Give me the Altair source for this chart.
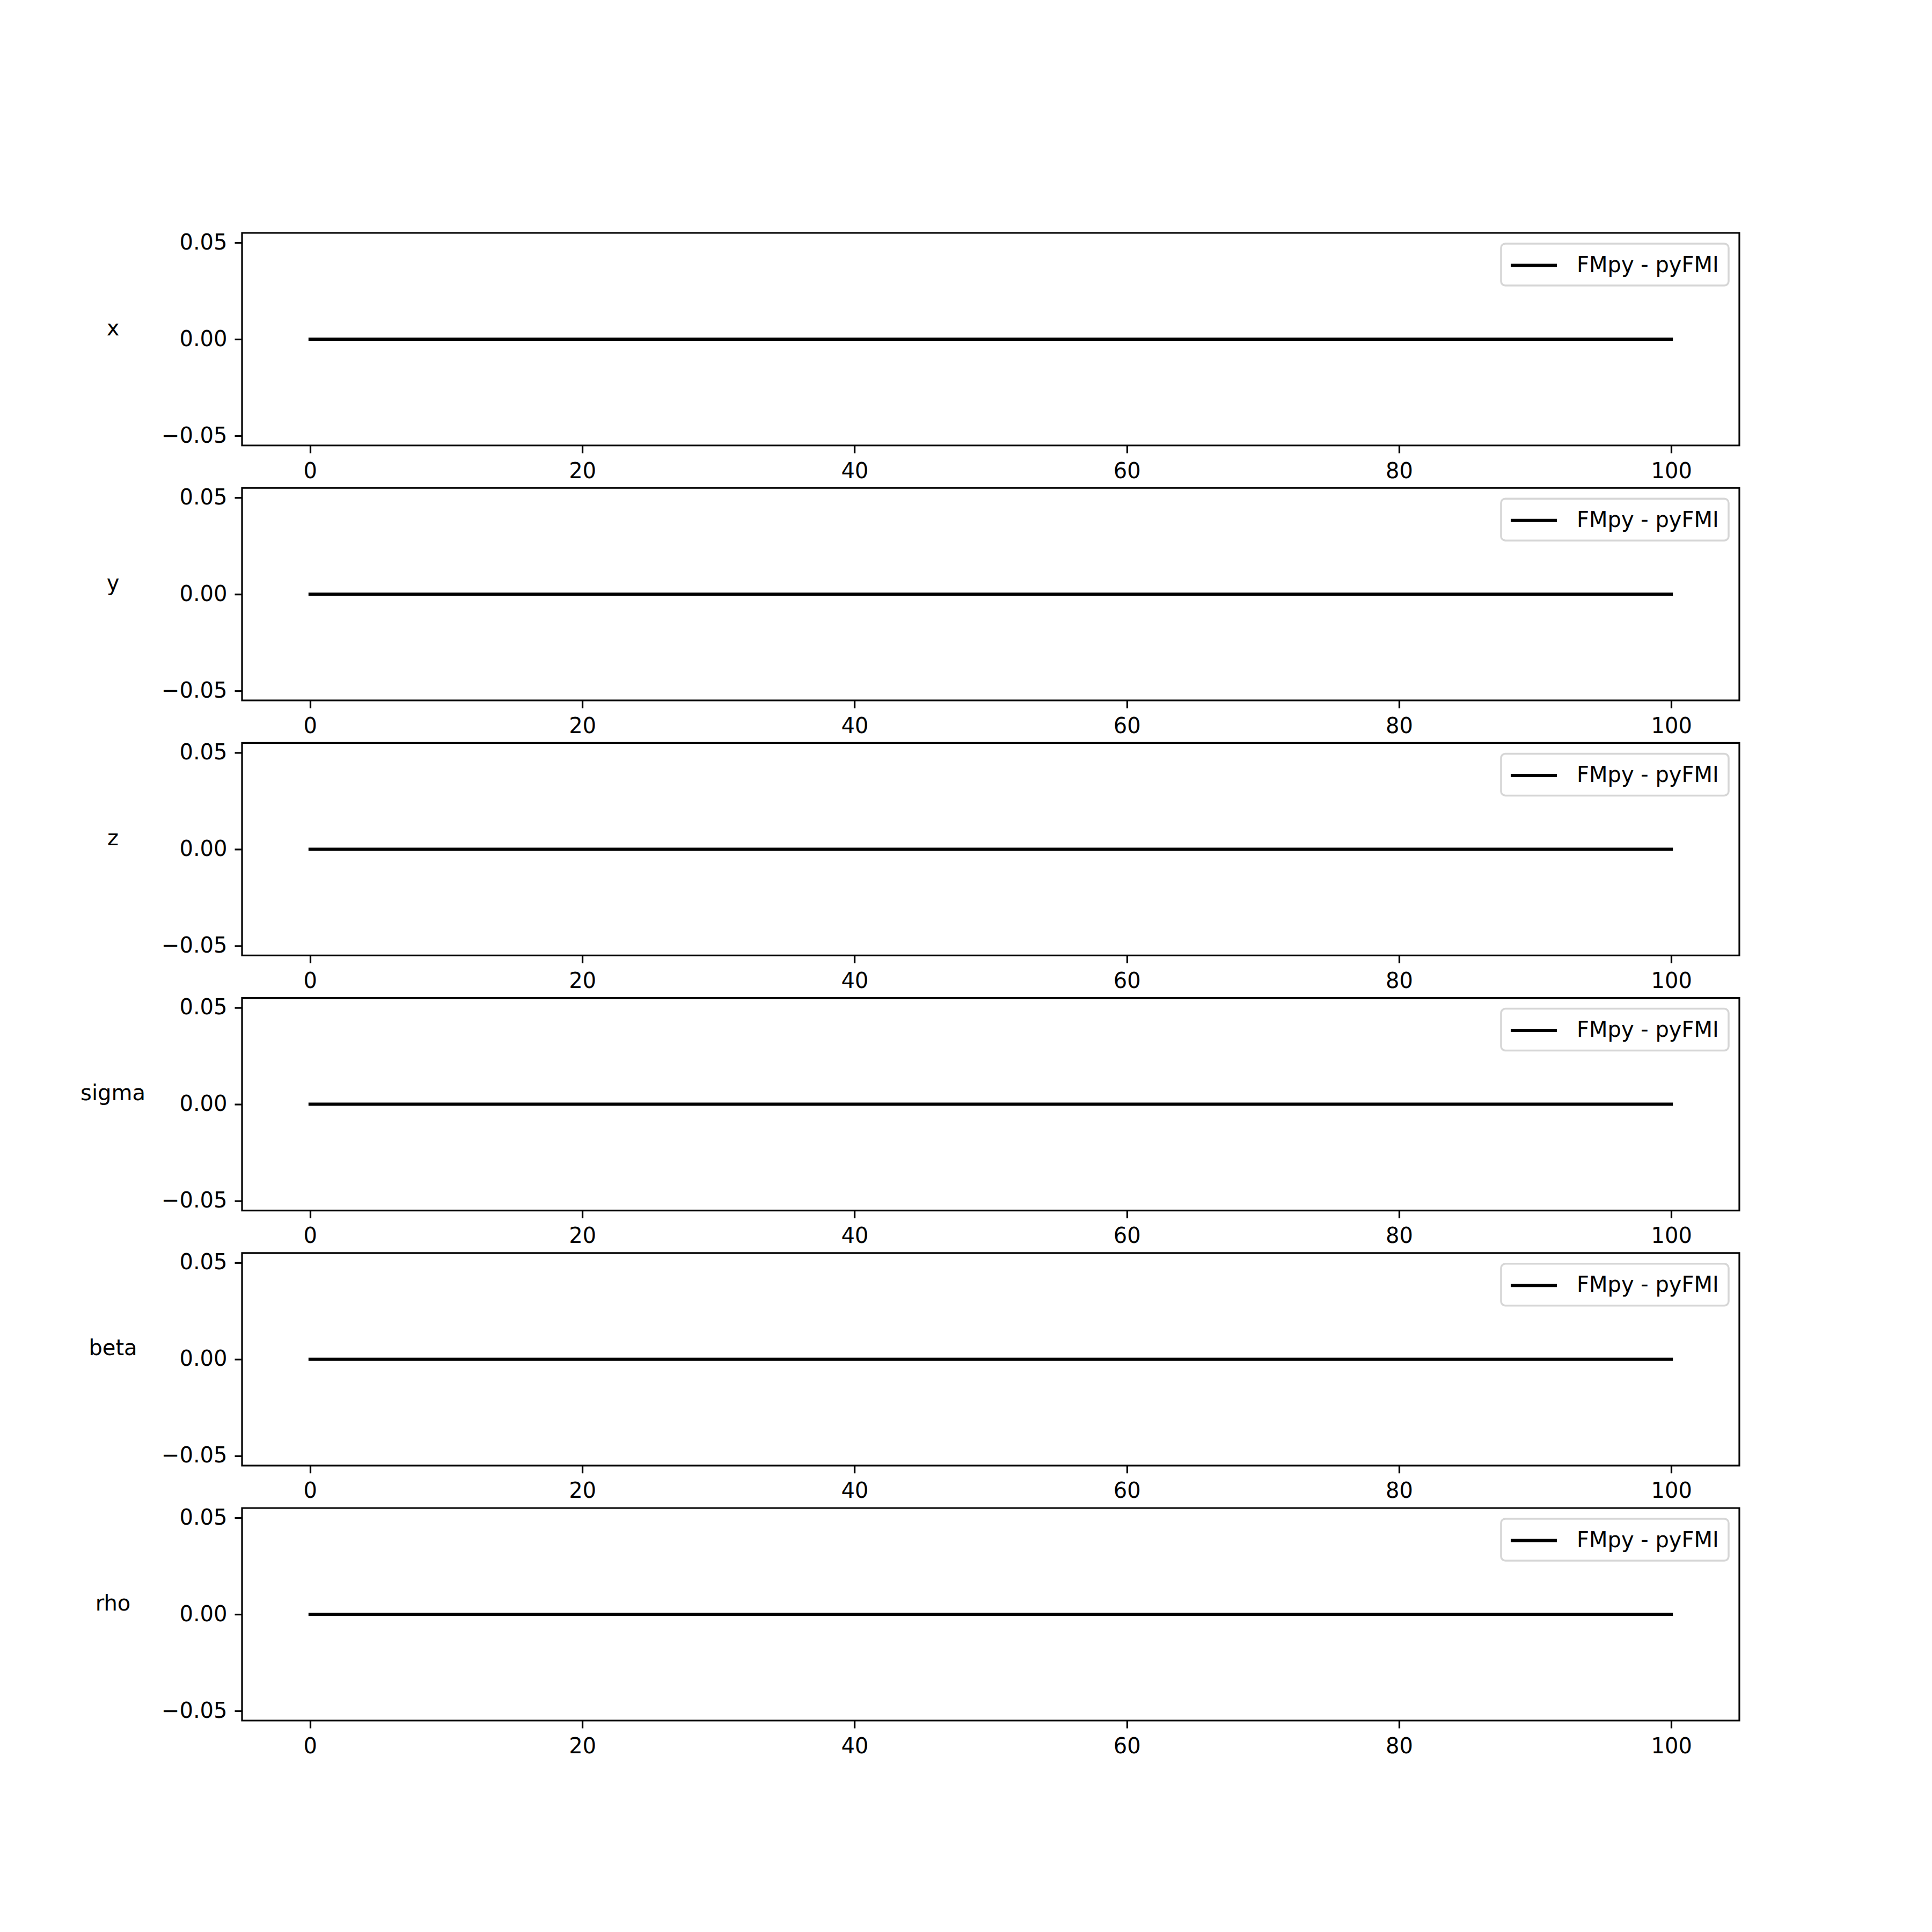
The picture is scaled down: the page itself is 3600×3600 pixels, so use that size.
import altair as alt
import pandas as pd

# ---- data (FMpy - pyFMI differences, all zero) ----
time = [0, 10, 20, 30, 40, 50, 60, 70, 80, 90, 100]
variables = ["x", "y", "z", "sigma", "beta", "rho"]
diff_x = [0.0, 0.0, 0.0, 0.0, 0.0, 0.0, 0.0, 0.0, 0.0, 0.0, 0.0]
diff_y = [0.0, 0.0, 0.0, 0.0, 0.0, 0.0, 0.0, 0.0, 0.0, 0.0, 0.0]
diff_z = [0.0, 0.0, 0.0, 0.0, 0.0, 0.0, 0.0, 0.0, 0.0, 0.0, 0.0]
diff_sigma = [0.0, 0.0, 0.0, 0.0, 0.0, 0.0, 0.0, 0.0, 0.0, 0.0, 0.0]
diff_beta = [0.0, 0.0, 0.0, 0.0, 0.0, 0.0, 0.0, 0.0, 0.0, 0.0, 0.0]
diff_rho = [0.0, 0.0, 0.0, 0.0, 0.0, 0.0, 0.0, 0.0, 0.0, 0.0, 0.0]
series_name = "FMpy - pyFMI"
x_ticks = [0, 20, 40, 60, 80, 100]
y_ticks = [-0.05, 0.0, 0.05]
x_domain = [-5, 105]
y_domain = [-0.055, 0.055]

diffs = [diff_x, diff_y, diff_z, diff_sigma, diff_beta, diff_rho]

FONT = "DejaVu Sans"

panels = []
for var, vals in zip(variables, diffs):
    df = pd.DataFrame({"time": time, "value": vals, "series": series_name})
    panel = (
        alt.Chart(df)
        .mark_line(strokeWidth=6, strokeCap="square")
        .encode(
            x=alt.X(
                "time:Q",
                scale=alt.Scale(domain=x_domain, nice=False, zero=False),
                axis=alt.Axis(values=x_ticks, format="d", title=None),
            ),
            y=alt.Y(
                "value:Q",
                scale=alt.Scale(domain=y_domain, nice=False, zero=False),
                axis=alt.Axis(
                    values=y_ticks,
                    format=".2f",
                    title=var,
                    titleAngle=0,
                    titleAlign="center",
                    titleBaseline="alphabetic",
                    titleX=-241,
                    titleY=190,
                ),
            ),
            color=alt.Color(
                "series:N",
                scale=alt.Scale(range=["black"]),
                legend=alt.Legend(title=None, orient="top-right"),
            ),
        )
        .properties(width=2790, height=396)
    )
    panels.append(panel)

chart = (
    alt.vconcat(*panels, spacing=79.2, bounds="flush")
    .resolve_scale(color="independent")
    .resolve_legend(color="independent")
    .properties(
        padding={"left": 147, "top": 430, "right": 10, "bottom": 10},
        background="white",
    )
    .configure_view(stroke="black", strokeWidth=3.2)
    .configure_axis(
        labelFont=FONT,
        labelFontSize=40,
        labelColor="black",
        tickSize=14,
        tickWidth=3.2,
        tickColor="black",
        labelPadding=14,
        domain=False,
        grid=False,
        titleFont=FONT,
        titleFontSize=40,
        titleFontWeight="normal",
        titleColor="black",
    )
    .configure_legend(
        labelFont=FONT,
        labelFontSize=40,
        labelColor="black",
        labelLimit=2000,
        symbolType="M-2.15,0L2.15,0",
        symbolSize=1600,
        symbolStrokeWidth=6,
        symbolStrokeColor="black",
        symbolFillColor="transparent",
        symbolOffset=20.5,
        labelOffset=57,
        padding=17.5,
        offset=20,
        strokeColor="#d6d6d6",
        strokeWidth=3.5,
        cornerRadius=8,
        fillColor="white",
    )
)

chart.save("out.html", embed_options={"renderer": "svg", "actions": False})
